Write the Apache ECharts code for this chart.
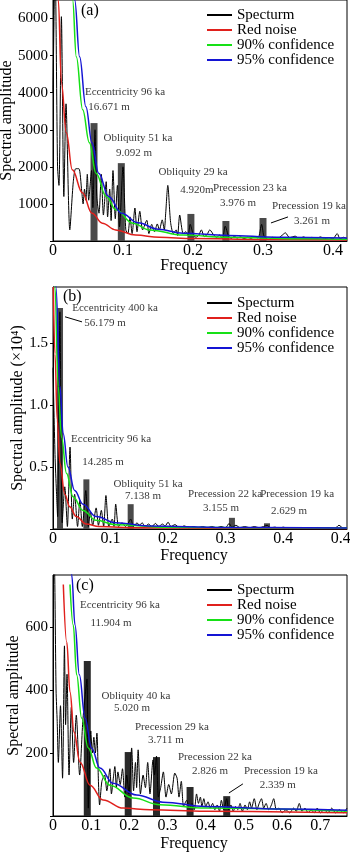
<!DOCTYPE html>
<html>
<head>
<meta charset="utf-8">
<script src="https://cdn.jsdelivr.net/npm/echarts@6/dist/echarts.min.js"></script>
<style>
  html, body { margin: 0; padding: 0; background: #fff; }
  #chart { width: 350px; height: 853px; }
</style>
</head>
<body>
<div id="chart"></div>
<script>
const legendNames = ['Specturm', 'Red noise', '90% confidence', '95% confidence']

// panel (a)
const spectrumA = [[0, 4000], [0.003, 7500], [0.0065, 2000], [0.0085, 1500], [0.012, 6050], [0.0155, 1200], [0.0186, 3700], [0.024, 300], [0.029, 1600], [0.0324, 1950], [0.037, 1950], [0.041, 1350], [0.043, 1000], [0.045, 1400], [0.047, 1100], [0.049, 1800], [0.051, 1100], [0.053, 1500], [0.055, 1900], [0.057, 900], [0.06, 3000], [0.0625, 1200], [0.0657, 750], [0.069, 1800], [0.072, 700], [0.076, 1600], [0.078, 650], [0.081, 1400], [0.083, 550], [0.0857, 1900], [0.089, 600], [0.092, 1500], [0.095, 380], [0.1, 2000], [0.104, 300], [0.107, 200], [0.11, 650], [0.113, 200], [0.117, 890], [0.12, 250], [0.124, 800], [0.128, 300], [0.134, 560], [0.137, 200], [0.141, 450], [0.145, 250], [0.149, 460], [0.152, 300], [0.156, 570], [0.159, 300], [0.161, 750], [0.164, 1500], [0.168, 500], [0.172, 200], [0.176, 300], [0.178, 150], [0.181, 700], [0.186, 200], [0.19, 250], [0.193, 150], [0.196, 450], [0.2, 200], [0.204, 100], [0.208, 150], [0.212, 300], [0.216, 120], [0.22, 170], [0.224, 300], [0.23, 150], [0.234, 100], [0.238, 160], [0.242, 70], [0.246, 400], [0.251, 120], [0.255, 70], [0.259, 130], [0.263, 80], [0.268, 110], [0.273, 60], [0.278, 100], [0.283, 70], [0.288, 120], [0.293, 80], [0.298, 450], [0.301, 150], [0.304, 80], [0.308, 40], [0.314, 100], [0.32, 60], [0.327, 150], [0.332, 220], [0.338, 90], [0.346, 130], [0.352, 60], [0.358, 110], [0.364, 70], [0.37, 100], [0.376, 60], [0.382, 110], [0.388, 60], [0.394, 90], [0.4, 60], [0.406, 200], [0.41, 60], [0.415, 100], [0.42, 60]]
const redA = [[0.004, 9500], [0.0076, 6500], [0.012, 4270], [0.019, 2920], [0.0276, 1920], [0.042, 1300], [0.0557, 750], [0.0705, 480], [0.0895, 300], [0.118, 160], [0.152, 100], [0.2, 65], [0.3, 40], [0.42, 30]]
const conf90A = [[0.024, 8500], [0.028, 6500], [0.0333, 4970], [0.0424, 3540], [0.052, 2650], [0.0614, 1830], [0.076, 1200], [0.09, 840], [0.114, 480], [0.138, 300], [0.186, 160], [0.25, 100], [0.35, 60], [0.42, 50]]
const conf95A = [[0.026, 8500], [0.031, 6500], [0.038, 4970], [0.047, 3620], [0.0557, 2650], [0.0652, 1830], [0.0795, 1200], [0.098, 750], [0.1214, 490], [0.15, 320], [0.186, 210], [0.25, 150], [0.32, 100], [0.42, 80]]
const peaksA = [[0.0586, 3180], [0.0976, 2100], [0.197, 730], [0.247, 540], [0.3, 620]]
const notesA = [
  [0.1029, 4027, 'Eccentricity 96 ka'], [0.08, 3622, '16.671 m'],
  [0.1214, 2784, 'Obliquity 51 ka'], [0.1157, 2379, '9.092 m'],
  [0.2, 1865, 'Obliquity 29 ka'], [0.2057, 1378, '4.920m'],
  [0.2814, 1432, 'Precession 23 ka'], [0.2643, 1027, '3.976 m'],
  [0.3657, 946, 'Precession 19 ka'], [0.37, 541, '3.261 m']
]
const arrowA = [[0.3357, 649], [0.3114, 487]]
const xLabelsA = ['0', '0.1', '0.2', '0.3', '0.4']
const yLabelsA = ['', '1000', '2000', '3000', '4000', '5000', '6000']

// panel (b), amplitude in 10^4
const spectrumB = [[0, 1.3], [0.0035, 0.6], [0.006, 0.3], [0.008, 0.1], [0.012, 1.75], [0.016, 0.05], [0.0205, 0.34], [0.025, 0.02], [0.0296, 0.66], [0.0336, 0.08], [0.0376, 0.28], [0.0427, 0.02], [0.0467, 0.23], [0.051, 0.02], [0.057, 0.31], [0.0615, 0.02], [0.065, 0.14], [0.069, 0.03], [0.075, 0.17], [0.079, 0.03], [0.084, 0.15], [0.088, 0.02], [0.092, 0.27], [0.097, 0.02], [0.103, 0.08], [0.106, 0.02], [0.109, 0.2], [0.114, 0.02], [0.12, 0.05], [0.126, 0.02], [0.131, 0.05], [0.135, 0.08], [0.14, 0.02], [0.146, 0.05], [0.15, 0.03], [0.155, 0.05], [0.16, 0.02], [0.166, 0.04], [0.172, 0.02], [0.178, 0.045], [0.184, 0.02], [0.19, 0.04], [0.195, 0.025], [0.2, 0.055], [0.205, 0.02], [0.212, 0.035], [0.22, 0.01], [0.228, 0.025], [0.236, 0.01], [0.244, 0.02], [0.252, 0.01], [0.26, 0.02], [0.268, 0.01], [0.276, 0.02], [0.284, 0.01], [0.292, 0.02], [0.3, 0.01], [0.306, 0.045], [0.311, 0.015], [0.318, 0.03], [0.325, 0.01], [0.333, 0.02], [0.342, 0.01], [0.35, 0.02], [0.358, 0.01], [0.366, 0.02], [0.372, 0.03], [0.378, 0.01], [0.386, 0.015], [0.393, 0.005], [0.4, 0.015], [0.41, 0.005], [0.42, 0.012], [0.43, 0.005], [0.44, 0.01], [0.45, 0.005], [0.46, 0.012], [0.47, 0.005], [0.48, 0.01], [0.49, 0.005], [0.497, 0.03], [0.505, 0.005], [0.511, 0.01]]
const redB = [[0.0005, 1.95], [0.0034, 1.41], [0.0074, 0.88], [0.012, 0.53], [0.0205, 0.28], [0.029, 0.18], [0.0405, 0.1], [0.0575, 0.04], [0.08, 0.02], [0.15, 0.01], [0.3, 0.006], [0.511, 0.005]]
const conf90B = [[0.002, 2.3], [0.0034, 1.95], [0.009, 1.15], [0.0148, 0.74], [0.0234, 0.45], [0.0348, 0.26], [0.052, 0.15], [0.075, 0.07], [0.109, 0.035], [0.2, 0.015], [0.35, 0.01], [0.511, 0.008]]
const conf95B = [[0.0035, 2.3], [0.0051, 1.95], [0.012, 1.15], [0.0176, 0.77], [0.026, 0.5], [0.0376, 0.31], [0.052, 0.2], [0.075, 0.1], [0.109, 0.05], [0.166, 0.025], [0.3, 0.012], [0.511, 0.008]]
const peaksB = [[0.0122, 1.78], [0.058, 0.4], [0.135, 0.2], [0.311, 0.09], [0.372, 0.046]]
const notesB = [
  [0.1078, 1.782, 'Eccentricity 400 ka'], [0.0904, 1.661, '56.179 m'],
  [0.1009, 0.726, 'Eccentricity 96 ka'], [0.087, 0.54, '14.285 m'],
  [0.1652, 0.363, 'Obliquity 51 ka'], [0.1565, 0.266, '7.138 m'],
  [0.2991, 0.282, 'Precession 22 ka'], [0.2922, 0.169, '3.155 m'],
  [0.4243, 0.282, 'Precession 19 ka'], [0.4104, 0.145, '2.629 m']
]
const arrowB = [[0.0504, 1.669], [0.0209, 1.71]]
const xLabelsB = ['0', '0.1', '0.2', '0.3', '0.4', '0.4']
const yLabelsB = ['', '0.5', '1.0', '1.5']

// panel (c)
const spectrumC = [[0, 900], [0.004, 800], [0.008, 400], [0.011, 300], [0.014, 170], [0.0196, 350], [0.025, 120], [0.03, 540], [0.033, 290], [0.0367, 450], [0.042, 130], [0.048, 345], [0.054, 170], [0.061, 320], [0.0698, 130], [0.078, 300], [0.084, 380], [0.089, 435], [0.0925, 25], [0.099, 270], [0.103, 200], [0.107, 250], [0.111, 200], [0.115, 263], [0.119, 110], [0.122, 35], [0.128, 110], [0.135, 130], [0.141, 80], [0.149, 150], [0.153, 70], [0.158, 120], [0.162, 157], [0.166, 90], [0.17, 140], [0.176, 100], [0.182, 150], [0.188, 60], [0.193, 130], [0.199, 70], [0.206, 216], [0.211, 80], [0.216, 170], [0.219, 90], [0.223, 210], [0.229, 70], [0.236, 130], [0.242, 90], [0.248, 170], [0.254, 70], [0.262, 178], [0.266, 130], [0.271, 190], [0.276, 60], [0.282, 90], [0.289, 140], [0.296, 60], [0.303, 100], [0.31, 70], [0.319, 136], [0.325, 120], [0.33, 60], [0.336, 110], [0.342, 30], [0.35, 50], [0.357, 25], [0.364, 40], [0.37, 20], [0.376, 70], [0.381, 40], [0.386, 60], [0.39, 30], [0.395, 55], [0.4, 30], [0.406, 45], [0.412, 25], [0.418, 40], [0.424, 20], [0.43, 35], [0.436, 15], [0.441, 50], [0.447, 20], [0.455, 55], [0.46, 20], [0.466, 35], [0.472, 15], [0.478, 30], [0.484, 20], [0.49, 40], [0.496, 15], [0.503, 35], [0.509, 20], [0.515, 45], [0.52, 25], [0.527, 55], [0.534, 20], [0.54, 40], [0.546, 55], [0.552, 25], [0.558, 40], [0.565, 20], [0.572, 35], [0.578, 55], [0.585, 20], [0.592, 25], [0.6, 10], [0.61, 20], [0.62, 10], [0.63, 25], [0.637, 15], [0.645, 40], [0.652, 15], [0.66, 25], [0.668, 10], [0.676, 20], [0.684, 10], [0.692, 25], [0.7, 10], [0.71, 20], [0.72, 10], [0.73, 25], [0.74, 10], [0.75, 20], [0.76, 10], [0.77, 25]]
const redC = [[0.027, 735], [0.036, 552], [0.0445, 394], [0.055, 267], [0.0707, 171], [0.097, 98], [0.131, 51], [0.184, 25], [0.254, 20], [0.4, 15], [0.77, 10]]
const conf90C = [[0.0445, 735], [0.053, 606], [0.062, 448], [0.075, 311], [0.0925, 216], [0.114, 152], [0.149, 98], [0.21, 57], [0.28, 36], [0.4, 25], [0.77, 15]]
const conf95C = [[0.047, 800], [0.049, 765], [0.0576, 606], [0.069, 448], [0.084, 311], [0.101, 216], [0.123, 152], [0.157, 104], [0.219, 67], [0.288, 44], [0.4, 30], [0.6, 22], [0.77, 18]]
const peaksC = [[0.0898, 492], [0.197, 203], [0.271, 187], [0.359, 92], [0.455, 63]]
const notesC = [
  [0.1754, 670, 'Eccentricity 96 ka'], [0.1518, 613, '11.904 m'],
  [0.2173, 381, 'Obliquity 40 ka'], [0.2068, 343, '5.020 m'],
  [0.3115, 283, 'Precession 29 ka'], [0.2958, 241, '3.711 m'],
  [0.4241, 187, 'Precession 22 ka'], [0.411, 143, '2.826 m'],
  [0.5969, 143, 'Precession 19 ka'], [0.589, 98, '2.339 m']
]
const arrowC = [[0.4974, 102], [0.4607, 73]]
const xLabelsC = ['0', '0.1', '0.2', '0.3', '0.4', '0.5', '0.6', '0.7']
const yLabelsC = ['', '200', '400', '600']

const serif = '"Liberation Serif", "Times New Roman", serif'
const colors = ['#000000', '#e0201c', '#16e016', '#1414d4']

const panels = [
  { tag: '(a)', top: 0, height: 241, xMax: 0.42, yMax: 6500, yInt: 1000, yName: 'Spectral amplitude', nameGap: 38, xGap: 17, legendTop: 7.5, tagPos: [81, 3], barW: 7, barColor: '#4a4a4a',
    data: [spectrumA, redA, conf90A, conf95A], peaks: peaksA, notes: notesA, arrow: arrowA, xLabels: xLabelsA, yLabels: yLabelsA },
  { tag: '(b)', top: 287, height: 242, xMax: 0.511, yMax: 1.95, yInt: 0.5, yName: 'Spectral amplitude (\u00d710\u2074)', nameGap: 27, xGap: 19, legendTop: 295.5, tagPos: [63, 289], barW: 6, barColor: '#4a4a4a',
    data: [spectrumB, redB, conf90B, conf95B], peaks: peaksB, notes: notesB, arrow: arrowB, xLabels: xLabelsB, yLabels: yLabelsB },
  { tag: '(c)', top: 575, height: 241, xMax: 0.77, yMax: 765, yInt: 200, yName: 'Spectral amplitude', nameGap: 31, xGap: 20, legendTop: 582.5, tagPos: [76, 578], barW: 7, barColor: '#2a2a2a',
    data: [spectrumC, redC, conf90C, conf95C], peaks: peaksC, notes: notesC, arrow: arrowC, xLabels: xLabelsC, yLabels: yLabelsC }
]

const grid = [], xAxis = [], yAxis = [], legend = [], series = [], graphic = []

panels.forEach((p, k) => {
  grid.push({ left: 53, right: 3, top: p.top, height: p.height, containLabel: false, outerBoundsMode: 'none',
    show: true, borderColor: '#000', borderWidth: 1, backgroundColor: 'transparent' })
  xAxis.push({
    type: 'value', gridIndex: k, min: 0, max: p.xMax, interval: 0.1,
    name: 'Frequency', nameLocation: 'middle', nameGap: p.xGap, nameMoveOverlap: false,
    nameTextStyle: { fontFamily: serif, fontSize: 16, color: '#000', padding: [0, 12, 0, 0] },
    axisLine: { lineStyle: { color: '#000', width: 1 } },
    axisTick: { show: false },
    splitLine: { show: false },
    axisLabel: { fontFamily: serif, fontSize: 16, color: '#000', margin: 2, showMaxLabel: false,
      formatter: (v, i) => p.xLabels[i] ?? '' }
  })
  yAxis.push({
    type: 'value', gridIndex: k, min: 0, max: p.yMax, interval: p.yInt,
    name: p.yName, nameLocation: 'middle', nameGap: p.nameGap, nameRotate: 90, nameMoveOverlap: false,
    nameTextStyle: { fontFamily: serif, fontSize: 16, color: '#000' },
    axisLine: { show: true, lineStyle: { color: '#000', width: 1 } },
    axisTick: { show: true, length: 3, lineStyle: { color: '#000' } },
    splitLine: { show: false },
    axisLabel: { fontFamily: serif, fontSize: 15, color: '#000', margin: 5, showMaxLabel: false,
      formatter: (v, i) => p.yLabels[i] ?? '' }
  })
  legend.push({
    data: legendNames, orient: 'vertical', left: 207, top: p.legendTop, padding: 0,
    icon: 'rect', itemWidth: 25, itemHeight: 2, itemGap: 0, selectedMode: false,
    textStyle: { fontFamily: serif, fontSize: 15, lineHeight: 15, color: '#000', padding: 0 }
  })
  series.push({
    type: 'bar', xAxisIndex: k, yAxisIndex: k, data: p.peaks, barWidth: p.barW,
    itemStyle: { color: p.barColor }, silent: true, z: 1
  })
  p.data.forEach((d, j) => {
    series.push({
      type: 'line', name: legendNames[j], xAxisIndex: k, yAxisIndex: k, data: d,
      showSymbol: false, smooth: j === 0 ? 0.25 : 0.4, smoothMonotone: j === 0 ? undefined : 'x',
      color: colors[j], lineStyle: { color: colors[j], width: j === 0 ? 1 : 1.5 },
      silent: true, z: 2 + j
    })
  })
  series.push({
    type: 'scatter', xAxisIndex: k, yAxisIndex: k, data: p.notes, symbolSize: 1,
    itemStyle: { color: 'transparent' }, silent: true, z: 8,
    label: { show: true, position: 'inside', color: '#000', fontFamily: serif, fontSize: 11,
      formatter: q => q.data[2] },
    markLine: {
      silent: true, symbol: ['none', 'arrow'], symbolSize: [0, 6],
      lineStyle: { color: '#000', width: 1, type: 'solid' }, label: { show: false },
      data: [[{ coord: p.arrow[0] }, { coord: p.arrow[1] }]]
    }
  })
  graphic.push({ type: 'text', left: p.tagPos[0], top: p.tagPos[1], z: 10,
    style: { text: p.tag, font: '16px ' + serif, fill: '#000' } })
})

const chart = echarts.init(document.getElementById('chart'))
chart.setOption({ animation: false, backgroundColor: '#fff', grid, xAxis, yAxis, legend, series, graphic })
</script>
</body>
</html>
